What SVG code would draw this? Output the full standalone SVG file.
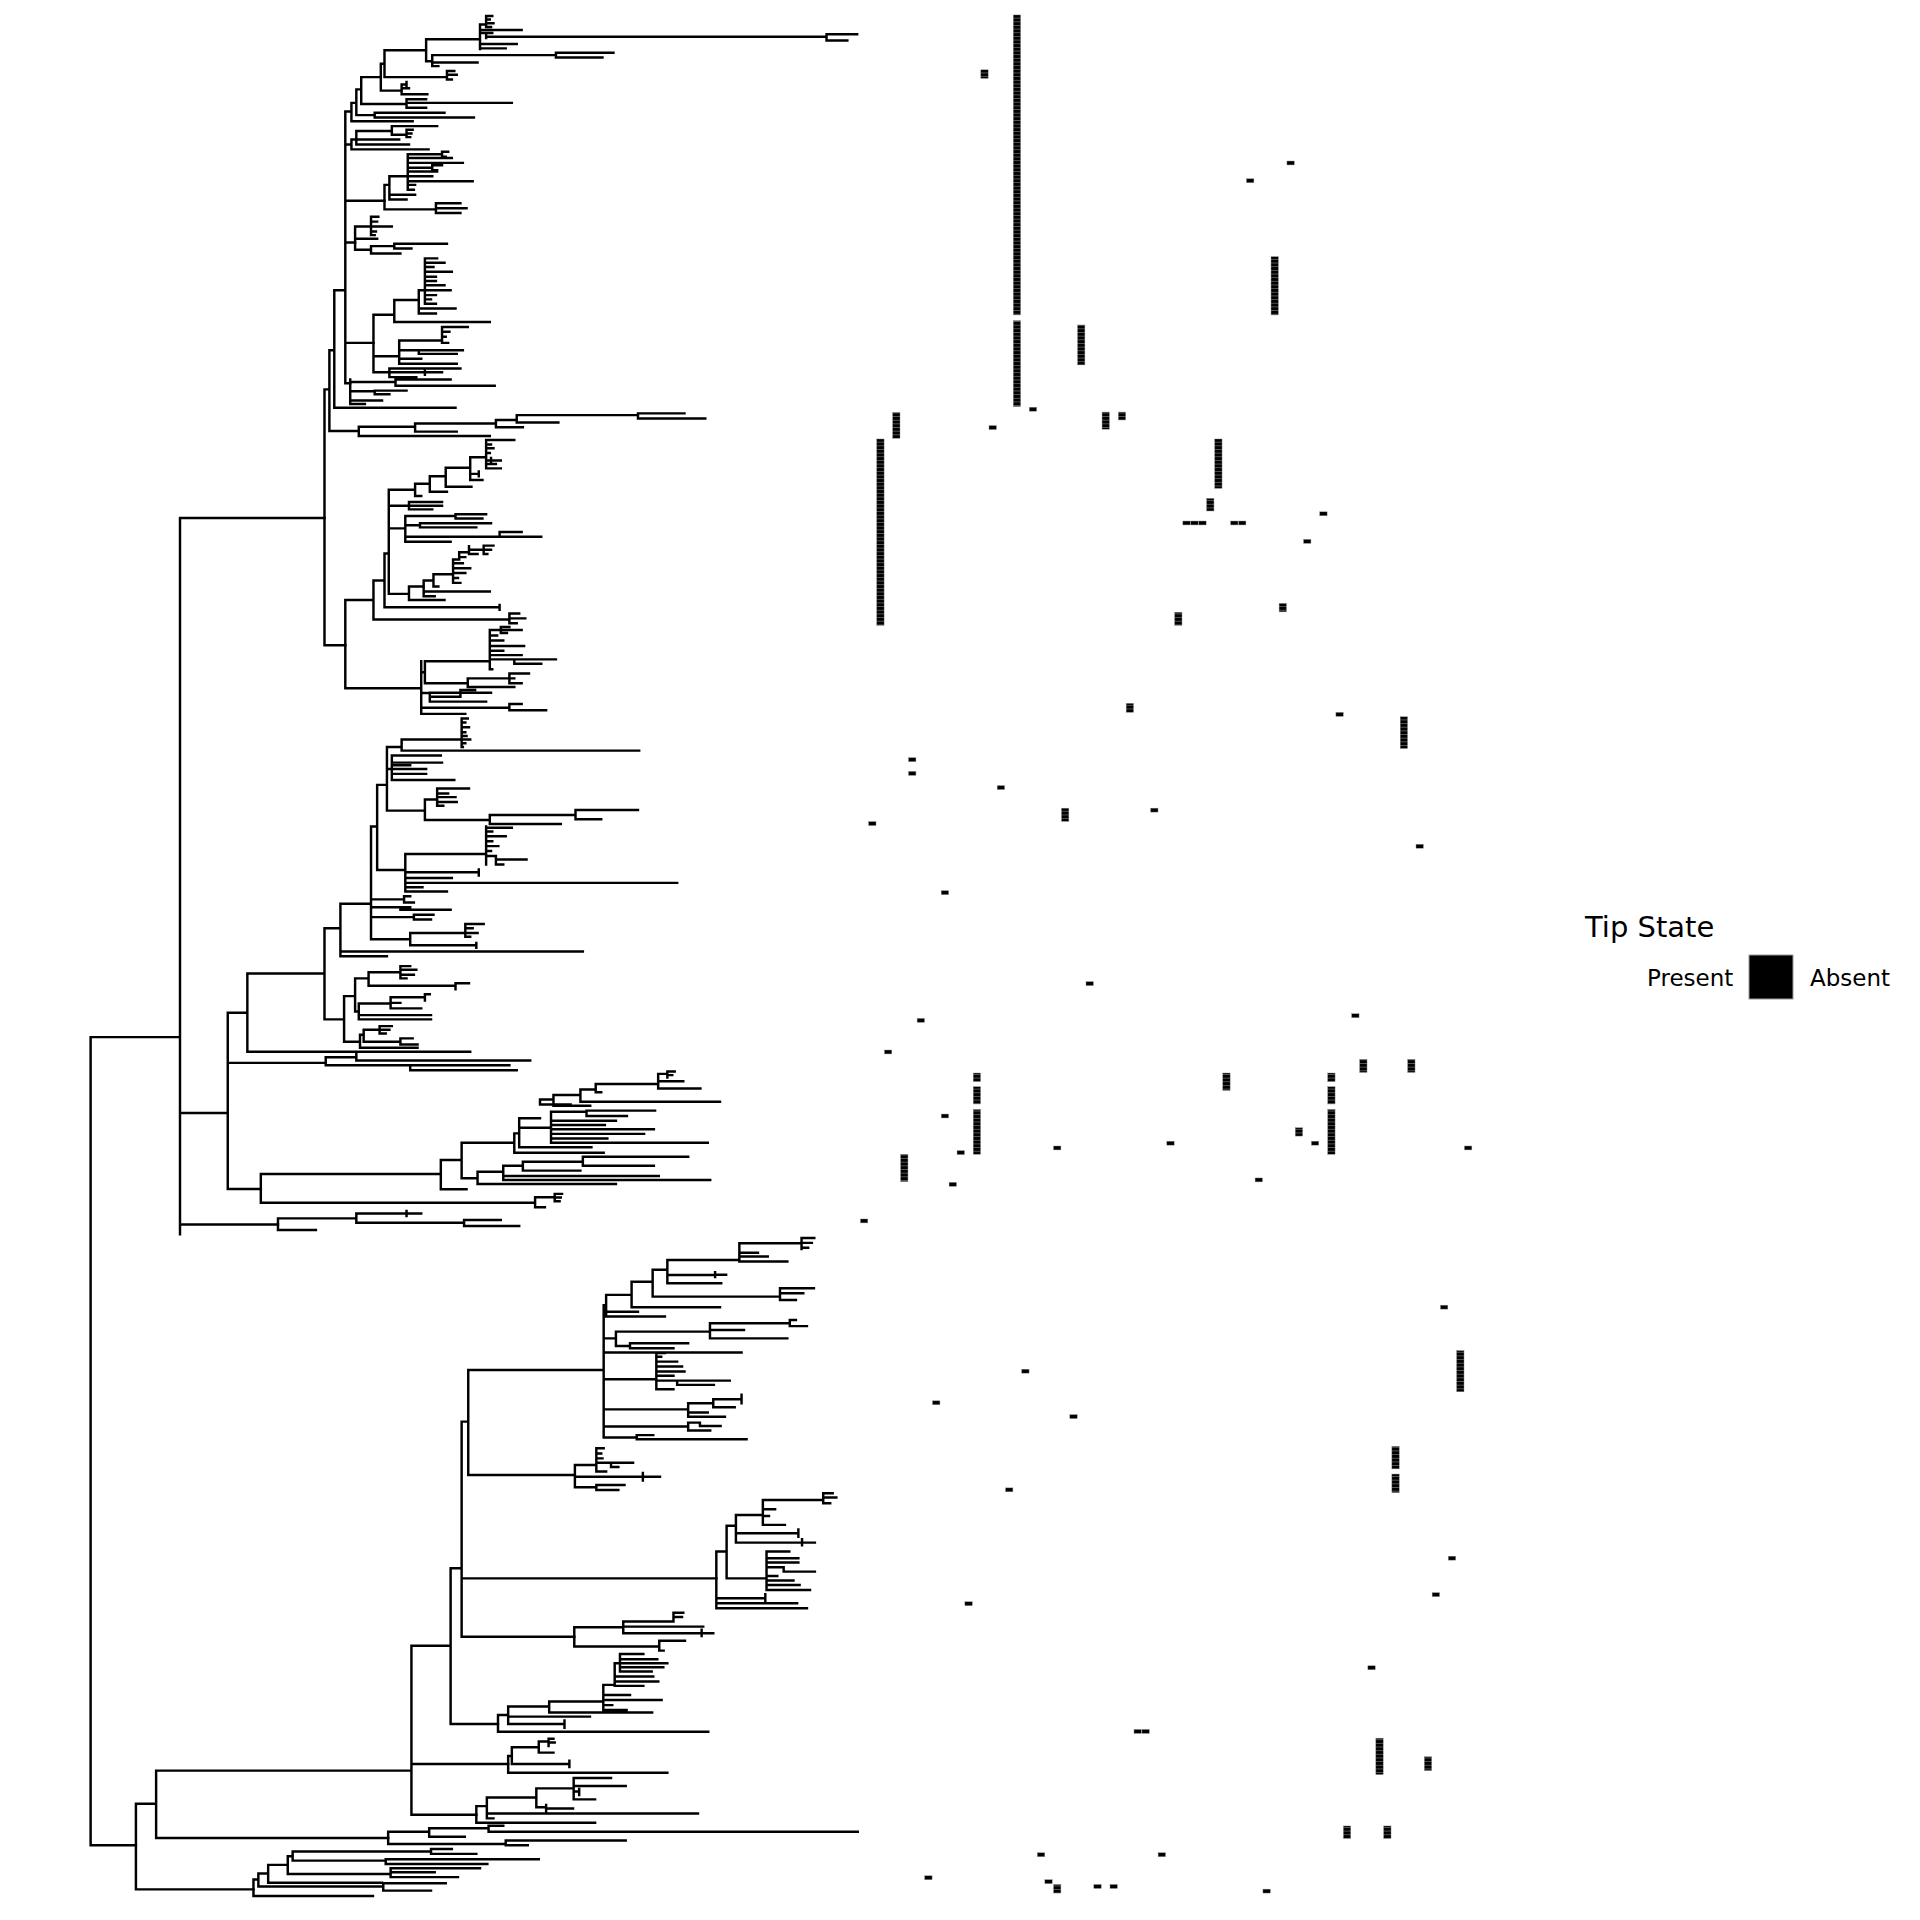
<svg xmlns="http://www.w3.org/2000/svg" width="1920" height="1920" viewBox="0 0 1920 1920">
<style>
.br{fill:none;stroke:#000;stroke-width:2;stroke-linecap:square}
.c{fill:#000;stroke:#8a8a8a;stroke-width:0.35}
.r{fill:url(#cells);stroke:#8a8a8a;stroke-width:0.35}
.lg{font-family:"DejaVu Sans","Liberation Sans",sans-serif;fill:#000}
</style>
<defs>
<pattern id="cells" width="10" height="2.985" patternUnits="userSpaceOnUse" y="12.2">
<rect width="10" height="2.985" fill="#7a7a7a"/>
<rect width="10" height="2.45" fill="#000"/>
</pattern>
</defs>
<rect width="1920" height="1920" fill="#fff"/>
<g transform="scale(1.22449)">
<g id="tree-branches">
<g id="backbone">
<path class="br" d="M74 847V1507M74 847H147M74 1507H111M147 423V1008M147 423H265M147 909H186M147 1000H227"/>
</g>
<g id="clade-top">
<path class="br" d="M265 318V527M265 318H269M265 527H282M269 286V352M269 286H273M269 352H293M273 237V333M273 237H282M273 333H372
M282 91V313M282 91H287M282 118H287M282 164H314M282 198H290M282 280H305M282 313H286
M287 84V99M287 84H291M287 99H337M291 73V94M291 73H295M291 94H306M306 92V96M306 92H363M306 96H387
M295 63V85M295 63H311M295 85H332M332 81V88M332 81H348M332 84H418M332 88H348
M311 52V74M311 52H314M311 74H328M328 69V77M328 69H332M328 72H334M328 77H349M332 67V71
M314 41V63M314 41H348M314 63H365M365 58V65M365 58H371M365 61H373M365 65H369
M348 32V50M348 32H392M348 50H353M353 45V54M353 45H454M353 51H390M353 54H358M454 43V47M454 43H501M454 47H492
M392 20V40M392 20H397M397 13V22M397 13H402M397 16H400M397 19H403M397 22H401M392 24.5H426M392 27H397M397 27V31M397 27H402M397 30H675M392 36H422M392 39.5H413
M675 28V33M675 28H700M675 33H692
M287 114V122M287 114H291M287 122H350M291 107V118M291 107H320M291 114H326M291 118H334M320 103V110M320 103H357M320 110H332M332 106V112M332 106H337M332 109H336M332 112H335"/>
<path class="br" d="M314 151V171M314 151H318M318 144V163M318 144H333M318 159H339M318 163H332M314 171H356
M333 126V155M333 126H361M361 124V128M361 124H366M361 128H364M333 129H369M333 133H378M333 137H353M353 135V139M353 135H361M353 139H357M333 140H357M333 144H353M333 148H386M333 151H339M333 155H338
M356 166V174M356 166H376M356 170H381M356 174H376
M290 185V204M290 185H303M303 177V192M303 177H309M303 181H308M303 185H320M303 189H307M303 192H306M290 195H308M290 204H303M303 201V207M303 201H322M322 199V203M322 199H365M322 203H336M303 207H327"/>
<path class="br" d="M305 257V304M305 257H322M305 291H326M305 304H318M322 245V263M322 245H342M322 263H400
M342 237V256M342 237H347M347 211V248M347 211H357M347 214.5H363M347 218H354M347 222H369M347 226H356M347 229.5H356M347 233H363M347 237H368M347 241H356M347 244.5H352M347 248H356M342 252H372M342 256H356
M326 278V297M326 278H361M361 267V280M361 267H382M361 271H367M361 275H364M361 280H366M326 286H342M342 286V289M342 286H378M342 289H373M326 293H344M326 297H373
M318 301V308M318 301H376M318 304H347M347 302V306M347 304H361M318 308H340
M286 310V330M286 312H323M323 310V315M323 310H368M323 315H404M286 319.5H306M306 319V322M306 319H332M306 322H318M286 327H312M286 330H298
M293 348.5V356M293 348.5H339M293 356H400M339 345.8V352.5M339 345.8H405M339 352.5H373M405 343V349M405 343H422M405 349H427M422 339V345M422 339H521M422 345H456M521 337.6V341.7M521 337.6H559M521 341.7H576"/>
</g>
<g id="clade-mid">
<path class="br" d="M282 490V562M282 490H305M282 562H344M305 474V506M305 474H314M305 506H416M416 501V509M416 501H424M416 505H429M416 509H422
M314 452V496M314 452H317.5M314 496H408M408 494V498M317.5 400V485M317.5 400H339M317.5 413H334M317.5 431.5H331M317.5 485H334
M339 395V405M339 395H351M339 405H344M351 389V401.6M351 389H364M351 401.6H365M364 382V397.5M364 382H384M364 397.5H385
M384 373.5V392M384 373.5H397M384 387H391M391 385V389M384 392H394M397 359.4V382.5M397 359.4H420M397 363H401M397 366H403M397 370H400M397 376H409M397 379H405M397 382.5H409M401 374V378M401 376H405
M334 410V416M334 410H361M334 413H361M334 416H353
M331 421.4V442.4M331 421.4H372M372 420V423.5M372 420H397M372 423.5H394M331 429H343M343 427.4V430.7M343 427.4H401M343 430.7H389M331 438.3H408M408 434.5V438.3M408 434.5H426M408 438.3H442M331 442.4H368
M334 479V490M334 479H346M334 490H363M346 474V487M346 474H354M346 483H400M346 487H355M354 469V479M354 469H370M354 479H358
M370 457V476M370 457H375M370 460H378M370 464H384M370 468H380M370 472H374M370 476H376M375 451V457M375 451H383M375 455H380M383 446V452.5M383 449H395M395 445.6V452.5M395 445.6H403M395 449H401M395 452.5H398M383 452.5H390
M344 540V583M344 549H347M347 540V558M347 540H400M347 558H382M344 566H351M344 578H416M344 583H380
M400 514.5V546.6M400 514.5H409M409 512V517M409 512H416M409 514.5H426M409 517H414M400 519H406M400 523H411M400 527.6H428M400 531.4H411M400 535H426M400 538.5H420M420 538.5V542M420 538.5H454M420 542H442M400 546.6H402
M382 554V561M382 554H416M416 550V558M416 550H432M416 554H420M416 558H426M382 561H420
M351 565.7V573M351 565.7H401M351 569H376M376 563.5V569M376 563.5H388M351 573H397M416 575V580M416 575H426M416 580H446"/>
</g>
<g id="clade-186">
<path class="br" d="M186 827V971M186 827H202M186 868H266M186 971H213M202 795V859M202 795H265M202 859H384M265 758V832.5M265 758H278M265 832.5H281
M278 738V781M278 738H303M278 777H476M278 781H316
M303 675V767M303 675H308M303 734.5H330M330 732V737M330 732H335M330 737H338M303 741H327M327 741V743M327 741H335M327 743H368M303 749H338M338 747V751M338 747H354M338 751H352M303 767H335
M335 762V772M335 762H380M380 754.6V765M380 754.6H395M380 758H386M380 762H390M380 765H384M335 772H389M389 770V774
M308 641V710.5M308 641H316M308 710.5H331M316 610V662M316 610H328M316 628H320M316 662H347
M320 617V637M320 617H360M320 622.8H361M320 625H335M320 628H348M320 632H348M320 637H371
M328 604V613M328 604H377M328 613H522M377 586.7V610M377 586.7H382M377 590H380M377 594H383M377 598H380M377 601H381M377 604H384M377 607H380M377 610H378
M347 653V669.7M347 653H357M357 644V658M357 644H383M357 648H366M357 651H372M357 655H373M357 658H362M347 669.7H400M400 665.6V673M400 665.6H470M470 661.5V669M470 661.5H521M470 669H491M400 673H458
M331 697.5V728M331 697.5H397M331 712.4H391M391 710V715M331 717H369M331 721H553M331 724.6H345M331 728H365
M397 675V706M397 676H418M397 679H402M397 683H413M397 687H402M397 691H407M397 695H401M397 699H405M405 699V706M405 702H430M405 706H411
M281 813.5V850.7M281 813.5H290M281 850.7H294M290 799V826M290 799H301M290 826H293M293 819.5V832.5M293 819.5H319M293 829H352M293 832.5H352
M319 814.5V823.5M319 814.5H347M347 812V817M347 812H351M319 819H327M319 823.5H344
M301 794V805M301 794H327M327 789V799M327 789H335M327 792H340M327 796H338M327 799H332M301 805H372M372 803V808M372 803H383
M294 845V855.6M294 845H297M294 855.6H341M297 841V850.7M297 841H310M310 838V844M310 838H320M310 841H318M310 844H315M297 850.7H327M327 848V853M327 848H337M327 853H341
M266 863.5V870M266 863.5H291M291 861V866M291 866H433M266 870H335M335 870V874M335 870H416M335 874H422"/>
<path class="br" d="M213 958.8V982.2M213 958.8H360M213 982.2H437M437 977.8V986M437 977.8H453M453 975V981M453 975H459M453 978H458M453 981H457M437 986H445
M360 947.4V971.3M360 947.4H377M360 971.3H381M377 933.2V962.3M377 933.2H420M377 962.3H390
M390 957V967M390 957H411M390 967H503M411 952V963.7M411 952H427M411 960.4H538M411 963.7H580M427 948.7V956M427 948.7H476M427 956H474M476 944.6V952M476 944.6H562M476 952H534
M420 925.6V941.4M420 925.6H424M420 941.4H493M424 913.3V937M424 913.3H441M424 921H450M424 937H483
M441 898V902M441 898H452M441 902H466M452 894.3V903M452 894.3H474M452 903H482M474 889.7V899.7M474 889.7H486.5M474 899.7H588M486.5 885.3V892M486.5 885.3H537.5M486.5 892H491
M537.5 877V889M537.5 877H545M545 875V880M545 875H551M545 878H549M537.5 883H558M537.5 889H572
M450 908V933.2M450 908H479M479 907V911.4M479 907H535M479 911.4H512M450 915.2H503M450 918.8H494M450 922.3H534M450 926H526M450 929.7H496M450 933.2H578
M227 995V1004.5M227 995H291M227 1004.5H258M291 991V998.5M291 991H332M332 989V993M332 991H344M291 998.5H379M379 996.4V1001.2M379 996.4H409M379 1001.2H424"/>
</g>
<g id="clade-bottom">
<path class="br" d="M111 1473V1543M111 1473H127.5M111 1543H207M127.5 1446V1501M127.5 1446H336M127.5 1501H317
M336 1344V1482M336 1344H368M336 1440.6H415M336 1482H389M368 1280.8V1408M368 1280.8H377M368 1408H406.7
M377 1161V1336.6M377 1161H382.4M377 1289H585M377 1336.6H469M382.4 1118.8V1204.6M382.4 1118.8H493M382.4 1204.6H469.5
M493 1066V1174M493 1066H495M493 1093H503M493 1104.6H605.6M493 1126.4H536M493 1151H562M493 1165H562M493 1174H520
M495 1057.5V1075.2M495 1057.5H515.8M495 1071.2H521M495 1075.2H543M515.8 1046.7V1067.6M515.8 1046.7H533M515.8 1067.6H588
M533 1037V1058.9M533 1037H545M533 1058.9H637M545 1029V1048M545 1029H603.8M545 1041.2H584M584 1039V1043M584 1041H593M545 1048H589
M603.8 1015.4V1030.3M603.8 1015.4H654.6M654.6 1011V1020M654.6 1011H665M654.6 1015H663M654.6 1019H660M603.8 1023H619M603.8 1026.2H627M603.8 1030.3H643
M637 1052V1061.6M637 1052H664.7M637 1056.2H656M637 1061.6H650
M503 1087.5V1099.2M503 1087.5H579.8M503 1099.2H514.5M579.8 1080.7V1093M579.8 1080.7H645M645 1078V1083M645 1078H650M645 1083H659M579.8 1086.1H607.6M579.8 1093H643M514.5 1097V1101M514.5 1097H562M514.5 1101H550
M536 1105V1134.6M536 1105H543M536 1108H540M536 1112H553M536 1116H557M536 1120H559M536 1123.6H550M536 1127.5H553M553 1127.5V1131M553 1127.5H596M553 1131H583M536 1134.6H550
M562 1146V1157M562 1146H582.5M582.5 1142.7V1149.3M582.5 1142.7H605.6M605.6 1139V1146M582.5 1149.3H600M562 1153.6H578M562 1157H592
M562 1161.8V1168.3M562 1161.8H571.6M571.6 1161.8V1164.5M571.6 1164.5H588.5M562 1168.3H580M520 1172V1175.4M520 1172H533.5M520 1175.4H609.7
M469.5 1196.4V1214.6M469.5 1196.4H487M469.5 1206H539M525 1203V1209M469.5 1214.6H487M487 1182.8V1201.8M487 1182.8H493M487 1187H491M487 1191H492M487 1194.5H499M499 1194.5V1198M499 1194.5H517M499 1198H505M487 1201.8H495M487 1212.7V1216.8M487 1212.7H510M487 1216.8H505"/>
<path class="br" d="M585 1267V1313.4M585 1267H593.4M585 1305.2H625M625 1302V1308M585 1309.4H651M585 1313.4H659M593.4 1246V1289M593.4 1246H601M593.4 1289H626
M601 1237.2V1259.8M601 1237.2H623M601 1252.2H652M652 1249V1255M601 1259.8H665.5M655 1257V1262
M623 1225V1245.3M623 1225H672.3M672.3 1219.5V1227.7M672.3 1219.5H680M672.3 1223H683M672.3 1227.7H678M623 1232.6H633M623 1238H628M623 1245.3H641
M626 1267V1298.5M626 1267H644.6M626 1272.6H652M626 1276H652M626 1280H640M640 1280V1283.5M640 1283.5H665.5M626 1287H634.8M626 1290.8H648M626 1294.4H653M626 1298.5H661.5
M469 1329V1344.7M469 1329H509M469 1344.7H538.4M509 1324.3V1333.8M509 1324.3H550M509 1328.4H574.3M509 1333.8H582.5M573 1331V1336M550 1317V1324M550 1317H558M550 1320.5H557M538.4 1340V1348M538.4 1340H559.4M538.4 1348H542
M406.7 1400.6V1414.2M406.7 1400.6H415M406.7 1414.2H578.4M415 1393.7V1408M415 1393.7H448.5M415 1401.9H481.8M415 1408H461M461 1405V1411
M448.5 1389.6V1398.6M448.5 1389.6H492.7M448.5 1398.6H532.6M492.7 1376V1396.5M492.7 1376H502M492.7 1384.2H514.5M492.7 1388.3H540.3M492.7 1392.5H500M492.7 1396.5H511.7
M502 1358.4V1376.8M502 1358.4H506.3M506.3 1350.7V1365.1M506.3 1350.7H525.4M506.3 1355H536.8M506.3 1358.3H545M506.3 1361.6H541.7M506.3 1365.1H532.2M502 1369.2H533.5M502 1373.3H537.6M502 1376.8H525.4
M415 1434V1447.7M415 1434H418M415 1447.7H545M418 1427V1440.6M418 1427H440M418 1440.6H465M465 1438V1443M440 1422.3V1431.3M440 1422.3H448M448 1420V1426M448 1420H452M448 1423H453M440 1431.3H452
M389 1475V1488.5M389 1475H397.6M389 1488.5H486M397.6 1468V1485M397.6 1468H438M397.6 1481H570M397.6 1485H403M438 1460.5V1476M438 1460.5H468.5M438 1476H446M446 1474V1479M446 1477H468
M468.5 1452V1469.5M468.5 1452H499M468.5 1458.5H511M468.5 1463H473M473 1461V1466M468.5 1469.5H486
M317 1496V1506M317 1496H350.5M317 1506H413M350.5 1493V1500M350.5 1493H399M350.5 1500H379.6M399 1491V1496M399 1491H411M399 1496H700.5M413 1503V1507M413 1503H511M413 1507H431
M207 1535V1548.4M207 1535H211M207 1548.4H304.6M211 1530V1540.7M211 1530H219M211 1540.7H313M313 1538V1544M313 1538H364M313 1544H352
M219 1523V1537.5M219 1523H235M219 1537.5H312M235 1516V1530.4M235 1516H239M235 1530.4H319M319 1525.8V1533M319 1525.8H392M319 1529H355M319 1533H374
M239 1512V1519.5M239 1512H352M239 1519.5H315M352 1510V1514M352 1510H369M352 1514H389M315 1518.4V1522.2M315 1518.4H440M315 1522.2H398"/>
</g>
</g>
<g id="heatmap">
<rect class="r" x="827.5" y="12.2" width="6" height="245"/>
<rect class="r" x="827.5" y="261.9" width="6" height="70.1"/>
<rect class="r" x="801" y="57" width="6" height="7"/>
<rect class="r" x="1038" y="209.6" width="6" height="47.6"/>
<rect class="r" x="880" y="265.4" width="6" height="32.6"/>
<rect class="r" x="900" y="336.5" width="6" height="14"/>
<rect class="r" x="913.3" y="336.5" width="6" height="6.5"/>
<rect class="r" x="729" y="336.8" width="6" height="21.2"/>
<rect class="r" x="716" y="358.5" width="6" height="152.2"/>
<rect class="r" x="992" y="358.5" width="6" height="40.3"/>
<rect class="r" x="985.4" y="407" width="6" height="10.3"/>
<rect class="r" x="1044.6" y="492.7" width="6" height="7"/>
<rect class="r" x="959.3" y="500" width="6" height="10.7"/>
<rect class="r" x="919.7" y="574.4" width="6" height="7.4"/>
<rect class="r" x="1143.5" y="585.3" width="6" height="26"/>
<rect class="r" x="866.9" y="660" width="6" height="10.8"/>
<rect class="r" x="1110.4" y="865.1" width="6" height="10.7"/>
<rect class="r" x="1149.6" y="865.1" width="6" height="10.7"/>
<rect class="r" x="794.8" y="876.3" width="6" height="7.1"/>
<rect class="r" x="794.8" y="887.5" width="6" height="14.1"/>
<rect class="r" x="794.8" y="906" width="6" height="36.7"/>
<rect class="r" x="998.6" y="876.3" width="6" height="14.2"/>
<rect class="r" x="1084.3" y="876.3" width="6" height="7.1"/>
<rect class="r" x="1084.3" y="887.5" width="6" height="14.1"/>
<rect class="r" x="1084.3" y="906" width="6" height="36.7"/>
<rect class="r" x="1057.8" y="921" width="6" height="6.8"/>
<rect class="r" x="735.5" y="942.7" width="6" height="22.3"/>
<rect class="r" x="1189.6" y="1103" width="6" height="33.6"/>
<rect class="r" x="1136.7" y="1181.2" width="6" height="18.4"/>
<rect class="r" x="1136.7" y="1203.8" width="6" height="15.2"/>
<rect class="r" x="1123.6" y="1419.5" width="6" height="29.7"/>
<rect class="r" x="1163.2" y="1434.7" width="6" height="11.3"/>
<rect class="r" x="1097.1" y="1491.2" width="6" height="10.3"/>
<rect class="r" x="1130" y="1491.2" width="6" height="10.3"/>
<rect class="r" x="860.4" y="1539" width="6" height="7"/>
<rect class="c" x="742" y="618.8" width="6" height="3.2"/>
<rect class="c" x="742" y="630" width="6" height="3.2"/>
<rect class="c" x="1018" y="146" width="6" height="3.2"/>
<rect class="c" x="1051" y="131.5" width="6" height="3.2"/>
<rect class="c" x="840.6" y="332.6" width="6" height="3.2"/>
<rect class="c" x="807.7" y="347.6" width="6" height="3.2"/>
<rect class="c" x="1077.8" y="418" width="6" height="3.2"/>
<rect class="c" x="966" y="425.5" width="6" height="3.2"/>
<rect class="c" x="972.5" y="425.5" width="6" height="3.2"/>
<rect class="c" x="979" y="425.5" width="6" height="3.2"/>
<rect class="c" x="1005" y="425.5" width="6" height="3.2"/>
<rect class="c" x="1011.5" y="425.5" width="6" height="3.2"/>
<rect class="c" x="1064.6" y="440.5" width="6" height="3.2"/>
<rect class="c" x="1091" y="581.8" width="6" height="3.2"/>
<rect class="c" x="814.4" y="641.6" width="6" height="3.2"/>
<rect class="c" x="939.7" y="660" width="6" height="3.2"/>
<rect class="c" x="709.4" y="671" width="6" height="3.2"/>
<rect class="c" x="1156.4" y="689.5" width="6" height="3.2"/>
<rect class="c" x="768.7" y="727.4" width="6" height="3.2"/>
<rect class="c" x="886.9" y="801.7" width="6" height="3.2"/>
<rect class="c" x="749" y="831.7" width="6" height="3.2"/>
<rect class="c" x="722.3" y="857.5" width="6" height="3.2"/>
<rect class="c" x="1103.9" y="827.9" width="6" height="3.2"/>
<rect class="c" x="768.7" y="909.8" width="6" height="3.2"/>
<rect class="c" x="1071" y="932" width="6" height="3.2"/>
<rect class="c" x="781.6" y="939.7" width="6" height="3.2"/>
<rect class="c" x="860.4" y="935.9" width="6" height="3.2"/>
<rect class="c" x="952.9" y="932" width="6" height="3.2"/>
<rect class="c" x="1196" y="935.9" width="6" height="3.2"/>
<rect class="c" x="775.1" y="965.6" width="6" height="3.2"/>
<rect class="c" x="1025" y="962" width="6" height="3.2"/>
<rect class="c" x="702.7" y="995.5" width="6" height="3.2"/>
<rect class="c" x="1176.4" y="1065.9" width="6" height="3.2"/>
<rect class="c" x="834.4" y="1118.2" width="6" height="3.2"/>
<rect class="c" x="761.6" y="1144" width="6" height="3.2"/>
<rect class="c" x="873.7" y="1155.3" width="6" height="3.2"/>
<rect class="c" x="821.2" y="1215.1" width="6" height="3.2"/>
<rect class="c" x="1182.8" y="1270.9" width="6" height="3.2"/>
<rect class="c" x="1169.6" y="1300.7" width="6" height="3.2"/>
<rect class="c" x="788" y="1308.1" width="6" height="3.2"/>
<rect class="c" x="1117.1" y="1360.4" width="6" height="3.2"/>
<rect class="c" x="926.1" y="1412.4" width="6" height="3.2"/>
<rect class="c" x="932.6" y="1412.4" width="6" height="3.2"/>
<rect class="c" x="847.2" y="1513.1" width="6" height="3.2"/>
<rect class="c" x="945.8" y="1513.1" width="6" height="3.2"/>
<rect class="c" x="755.2" y="1531.9" width="6" height="3.2"/>
<rect class="c" x="853.3" y="1535.1" width="6" height="3.2"/>
<rect class="c" x="893.3" y="1539" width="6" height="3.2"/>
<rect class="c" x="906.5" y="1539" width="6" height="3.2"/>
<rect class="c" x="1031.4" y="1542.8" width="6" height="3.2"/>
</g>
</g>
<g id="legend">
<text class="lg" x="1585" y="937" font-size="29">Tip State</text>
<text class="lg" x="1647" y="986" font-size="23">Present</text>
<rect id="legend-key" x="1749" y="955" width="44" height="44" fill="#000" stroke="#9a9a9a" stroke-width="1"/>
<text class="lg" x="1810" y="986" font-size="23">Absent</text>
</g>
</svg>
